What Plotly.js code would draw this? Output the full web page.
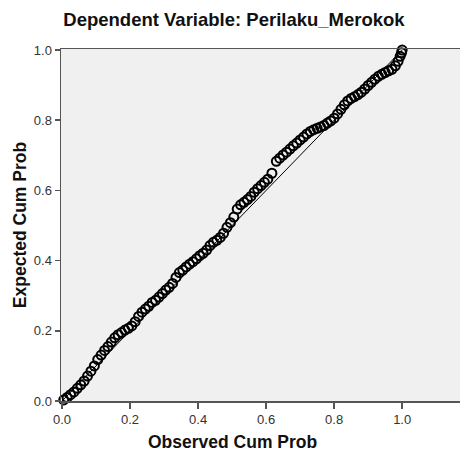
<!DOCTYPE html>
<html>
<head>
<meta charset="utf-8">
<script src="https://cdn.plot.ly/plotly-3.0.1.min.js"></script>
<style>html,body{margin:0;padding:0;background:#fff;}#chart{width:460px;height:459px;}</style>
</head>
<body>
<div id="chart"></div>
<script>
// Observed cumulative probability (x) and expected cumulative probability (y)
const observedCumProb = [0.005,0.015,0.025,0.035,0.045,0.055,0.065,0.075,0.085,0.095,0.105,0.115,0.125,0.135,0.145,0.155,0.165,0.175,0.185,0.195,0.205,0.215,0.225,0.235,0.245,0.255,0.265,0.275,0.285,0.295,0.305,0.315,0.325,0.335,0.345,0.355,0.365,0.375,0.385,0.395,0.405,0.415,0.425,0.435,0.445,0.455,0.465,0.475,0.485,0.495,0.505,0.515,0.525,0.535,0.545,0.555,0.565,0.575,0.585,0.595,0.605,0.617,0.630,0.640,0.650,0.660,0.670,0.680,0.690,0.700,0.710,0.720,0.730,0.740,0.750,0.760,0.770,0.780,0.790,0.800,0.810,0.820,0.830,0.840,0.850,0.860,0.870,0.880,0.890,0.900,0.910,0.920,0.930,0.940,0.950,0.960,0.970,0.980,0.988,0.994,0.998,1.000];
const expectedCumProb = [0.003,0.010,0.018,0.026,0.036,0.046,0.057,0.071,0.085,0.100,0.118,0.131,0.144,0.155,0.168,0.180,0.189,0.195,0.202,0.207,0.214,0.226,0.241,0.253,0.262,0.270,0.281,0.287,0.296,0.306,0.316,0.324,0.335,0.352,0.366,0.373,0.382,0.390,0.397,0.405,0.414,0.421,0.430,0.443,0.452,0.458,0.466,0.478,0.495,0.508,0.524,0.547,0.559,0.566,0.574,0.583,0.595,0.605,0.614,0.623,0.632,0.649,0.683,0.692,0.701,0.709,0.718,0.727,0.735,0.744,0.752,0.761,0.768,0.773,0.777,0.781,0.785,0.792,0.798,0.806,0.818,0.831,0.844,0.855,0.862,0.867,0.873,0.880,0.889,0.899,0.908,0.917,0.925,0.931,0.936,0.941,0.945,0.955,0.968,0.982,0.992,1.000];
// Reference (diagonal) line endpoints
const refLineX = [0, 1];
const refLineY = [0, 1];
const xTickVals = [0, 0.2, 0.4, 0.6, 0.8, 1.0];
const xTickText = ["0.0", "0.2", "0.4", "0.6", "0.8", "1.0"];
const yTickVals = [0, 0.2, 0.4, 0.6, 0.8, 1.0];
const yTickText = ["0.0", "0.2", "0.4", "0.6", "0.8", "1.0"];

const FONT = "Arial, 'Liberation Sans', sans-serif";

const traces = [
  {
    x: refLineX, y: refLineY, mode: "lines", type: "scatter",
    line: {color: "#000", width: 1}, hoverinfo: "skip", showlegend: false
  },
  {
    x: observedCumProb, y: expectedCumProb, mode: "markers", type: "scatter",
    marker: {symbol: "circle-open", size: 9, color: "#000", line: {width: 2, color: "#111"}},
    showlegend: false, cliponaxis: false
  }
];

const layout = {
  width: 460, height: 459,
  margin: {l: 61, r: 0, t: 49, b: 58, pad: 0},
  paper_bgcolor: "#ffffff",
  plot_bgcolor: "#f0f0f0",
  font: {family: FONT, color: "#222"},
  title: {
    text: "<b>Dependent Variable: Perilaku_Merokok</b>",
    font: {family: FONT, size: 18.5, color: "#111"},
    x: 234 / 460, xref: "container", xanchor: "center",
    y: 1 - 20/459, yref: "container", yanchor: "middle"
  },
  xaxis: {
    range: [-0.003, 1.17],
    tickvals: xTickVals, ticktext: xTickText,
    ticks: "outside", ticklen: 6, tickwidth: 1.5, tickcolor: "#555",
    showline: true, linecolor: "#555", linewidth: 1.5, mirror: true,
    showgrid: false, zeroline: false,
    tickfont: {family: FONT, size: 13, color: "#333"}
  },
  yaxis: {
    range: [0, 1.003],
    tickvals: yTickVals, ticktext: yTickText,
    ticks: "outside", ticklen: 5, tickwidth: 1.5, tickcolor: "#555",
    showline: true, linecolor: "#555", linewidth: 1.5,
    showgrid: false, zeroline: false,
    tickfont: {family: FONT, size: 13, color: "#333"},
    title: {text: "<b>Expected Cum Prob</b>", font: {family: FONT, size: 17.5, color: "#111"}, standoff: 2}
  },
  annotations: [
    {
      text: "<b>Observed Cum Prob</b>", showarrow: false,
      xref: "paper", yref: "paper", x: (232 - 61) / 399, y: -(442 - 401) / 352,
      xanchor: "center", yanchor: "middle",
      font: {family: FONT, size: 17.5, color: "#111"}
    }
  ]
};

Plotly.newPlot("chart", traces, layout, {displayModeBar: false, staticPlot: true});
</script>
</body>
</html>
